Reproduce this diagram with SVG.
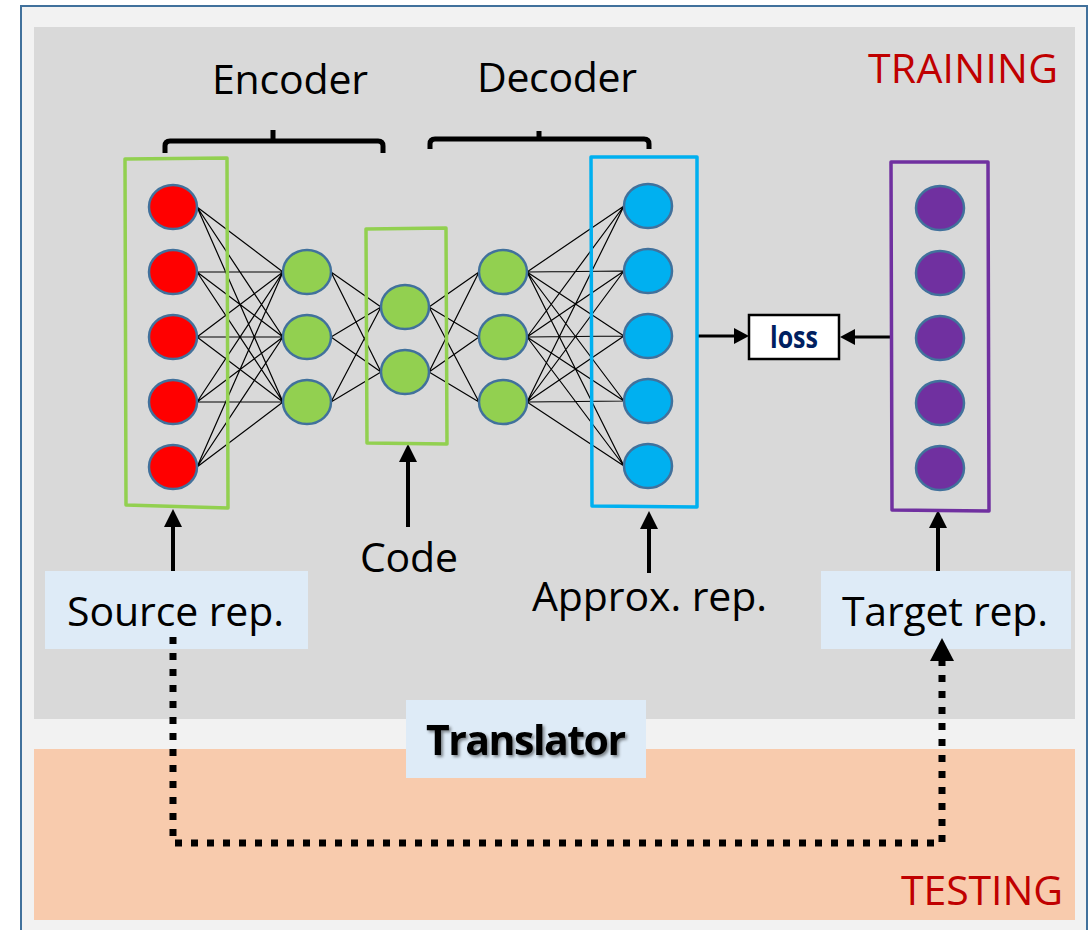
<svg xmlns="http://www.w3.org/2000/svg" width="1092" height="930" viewBox="0 0 1092 930">
<defs>
<style>
.txt{font-family:"Open Sans","Noto Sans","DejaVu Sans",sans-serif;font-size:41px;fill:#000}
.red{fill:#c00000}
.bold{font-weight:bold}
.loss-t{font-family:"Open Sans","Noto Sans","DejaVu Sans",sans-serif;font-size:30px;font-weight:bold;fill:#002060}
.node{stroke:#41719c;stroke-width:2.5}
.n-red{fill:#ff0000}
.n-green{fill:#92d050}
.n-blue{fill:#00b0f0}
.n-purple{fill:#7030a0}
.box{fill:none;stroke-width:3.5;stroke-linejoin:round}
.lbl{fill:#deebf7}
.edge{stroke:#000;stroke-width:1.2;fill:none}
.arrow{stroke:#000;stroke-width:4;fill:none;marker-end:url(#ah)}
.arrow-s{stroke:#000;stroke-width:3;fill:none;marker-end:url(#ahs)}
.dotted{stroke:#000;stroke-width:7;stroke-dasharray:7 9;fill:none;marker-end:url(#ahd)}
.brace{stroke:#000;stroke-width:5;fill:none;stroke-linejoin:round}
</style>
<marker id="ah" viewBox="0 0 18 18" refX="0" refY="9" markerWidth="18" markerHeight="18" markerUnits="userSpaceOnUse" orient="auto"><path d="M0,0 L18,9 L0,18 z" fill="#000"/></marker>
<marker id="ahs" viewBox="0 0 15 16" refX="0" refY="8" markerWidth="15" markerHeight="16" markerUnits="userSpaceOnUse" orient="auto"><path d="M0,0 L15,8 L0,16 z" fill="#000"/></marker>
<marker id="ahd" viewBox="0 0 23 24" refX="0" refY="12" markerWidth="23" markerHeight="24" markerUnits="userSpaceOnUse" orient="auto"><path d="M0,0 L23,12 L0,24 z" fill="#000"/></marker>
<filter id="shadow" x="-10%" y="-20%" width="130%" height="150%"><feDropShadow dx="2" dy="2" stdDeviation="1.5" flood-color="#000" flood-opacity="0.45"/></filter>
</defs>

<g id="background">
<rect x="21" y="6" width="1066" height="940" fill="#f2f2f2" stroke="#41719c" stroke-width="2"/>
<rect x="34" y="27" width="1041" height="692" fill="#d9d9d9"/>
<rect x="34" y="749" width="1041" height="171" fill="#f8cbad"/>
<text class="txt red" x="868" y="83" textLength="190">TRAINING</text>
<text class="txt red" x="901" y="905" textLength="162">TESTING</text>
</g>

<g id="connectors">
<g id="enc-edges">
<path class="edge" d="M197,207 L283,272 M197,207 L283,337 M197,207 L283,402
M197,272 L283,272 M197,272 L283,337 M197,272 L283,402
M197,337 L283,272 M197,337 L283,337 M197,337 L283,402
M197,402 L283,272 M197,402 L283,337 M197,402 L283,402
M197,467 L283,272 M197,467 L283,337 M197,467 L283,402"/>
<path class="edge" d="M331,272 L381,307 M331,272 L381,372
M331,337 L381,307 M331,337 L381,372
M331,402 L381,307 M331,402 L381,372"/>
</g>
<g id="dec-edges">
<path class="edge" d="M429,307 L479,272 M429,307 L479,337 M429,307 L479,402
M429,372 L479,272 M429,372 L479,337 M429,372 L479,402"/>
<path class="edge" d="M527,272 L624,206 M527,272 L624,271 M527,272 L624,336 M527,272 L624,401 M527,272 L624,466
M527,337 L624,206 M527,337 L624,271 M527,337 L624,336 M527,337 L624,401 M527,337 L624,466
M527,402 L624,206 M527,402 L624,271 M527,402 L624,336 M527,402 L624,401 M527,402 L624,466"/>
</g>
<line class="arrow" x1="173" y1="571" x2="173" y2="527"/>
<line class="arrow" x1="408" y1="527" x2="408" y2="462"/>
<line class="arrow" x1="649" y1="573" x2="649" y2="529"/>
<line class="arrow" x1="938" y1="571" x2="938" y2="528"/>
<line class="arrow-s" x1="698" y1="336" x2="734" y2="336"/>
<line class="arrow-s" x1="892" y1="337" x2="855" y2="337"/>
<path class="brace" d="M165,153 V146 Q165,141 170,141 H378 Q383,141 383,146 V153 M273,141 V130"/>
<path class="brace" d="M430,149 V144 Q430,139 435,139 H644 Q649,139 649,144 V149 M539,139 V131"/>
</g>

<g id="encoder-label"><text class="txt" x="212" y="94" textLength="156">Encoder</text></g>
<g id="decoder-label"><text class="txt" x="477" y="92" textLength="160">Decoder</text></g>

<g id="input-layer">
<polygon class="box" stroke="#92d050" points="125,159 227,158 228,508 126,505"/>
<ellipse class="node n-red" cx="173" cy="207" rx="24" ry="22"/>
<ellipse class="node n-red" cx="173" cy="272" rx="24" ry="22"/>
<ellipse class="node n-red" cx="173" cy="337" rx="24" ry="22"/>
<ellipse class="node n-red" cx="173" cy="402" rx="24" ry="22"/>
<ellipse class="node n-red" cx="173" cy="467" rx="24" ry="22"/>
</g>

<g id="encoder-hidden">
<ellipse class="node n-green" cx="307" cy="272" rx="24" ry="22"/>
<ellipse class="node n-green" cx="307" cy="337" rx="24" ry="22"/>
<ellipse class="node n-green" cx="307" cy="402" rx="24" ry="22"/>
</g>

<g id="code-layer">
<polygon class="box" stroke="#92d050" points="366,229 446,228 447,444 367,443"/>
<ellipse class="node n-green" cx="405" cy="307" rx="24" ry="22"/>
<ellipse class="node n-green" cx="405" cy="372" rx="24" ry="22"/>
</g>

<g id="decoder-hidden">
<ellipse class="node n-green" cx="503" cy="272" rx="24" ry="22"/>
<ellipse class="node n-green" cx="503" cy="337" rx="24" ry="22"/>
<ellipse class="node n-green" cx="503" cy="402" rx="24" ry="22"/>
</g>

<g id="output-layer">
<polygon class="box" stroke="#00b0f0" points="591,157 697,157 697,507 592,506"/>
<ellipse class="node n-blue" cx="648" cy="206" rx="24" ry="22"/>
<ellipse class="node n-blue" cx="648" cy="271" rx="24" ry="22"/>
<ellipse class="node n-blue" cx="648" cy="336" rx="24" ry="22"/>
<ellipse class="node n-blue" cx="648" cy="401" rx="24" ry="22"/>
<ellipse class="node n-blue" cx="648" cy="466" rx="24" ry="22"/>
</g>

<g id="target-layer">
<polygon class="box" stroke="#7030a0" stroke-width="3" points="891,162 988,162 989,511 892,510"/>
<ellipse class="node n-purple" cx="940" cy="208" rx="24" ry="22"/>
<ellipse class="node n-purple" cx="940" cy="273" rx="24" ry="22"/>
<ellipse class="node n-purple" cx="940" cy="338" rx="24" ry="22"/>
<ellipse class="node n-purple" cx="940" cy="403" rx="24" ry="22"/>
<ellipse class="node n-purple" cx="940" cy="468" rx="24" ry="22"/>
</g>

<g id="loss">
<rect x="749" y="315" width="90" height="44" fill="#fff" stroke="#000" stroke-width="2.5"/>
<text class="loss-t" x="770" y="348" textLength="48" lengthAdjust="spacingAndGlyphs">loss</text>
</g>

<g id="code-label"><text class="txt" x="360" y="572" textLength="98">Code</text></g>
<g id="approx-label"><text class="txt" x="532" y="611" textLength="235">Approx. rep.</text></g>

<g id="source-rep">
<rect class="lbl" x="45" y="571" width="263" height="78"/>
<text class="txt" x="67" y="626" textLength="217">Source rep.</text>
</g>

<g id="target-rep">
<rect class="lbl" x="821" y="571" width="250" height="78"/>
<text class="txt" x="842" y="626" textLength="206">Target rep.</text>
</g>

<g id="translator">
<rect class="lbl" x="406" y="700" width="240" height="78"/>
<text class="txt bold" x="426" y="755" textLength="200" filter="url(#shadow)">Translator</text>
</g>

<g id="translator-path">
<path class="dotted" d="M173,637 V843 H942 V661"/>
</g>
</svg>
